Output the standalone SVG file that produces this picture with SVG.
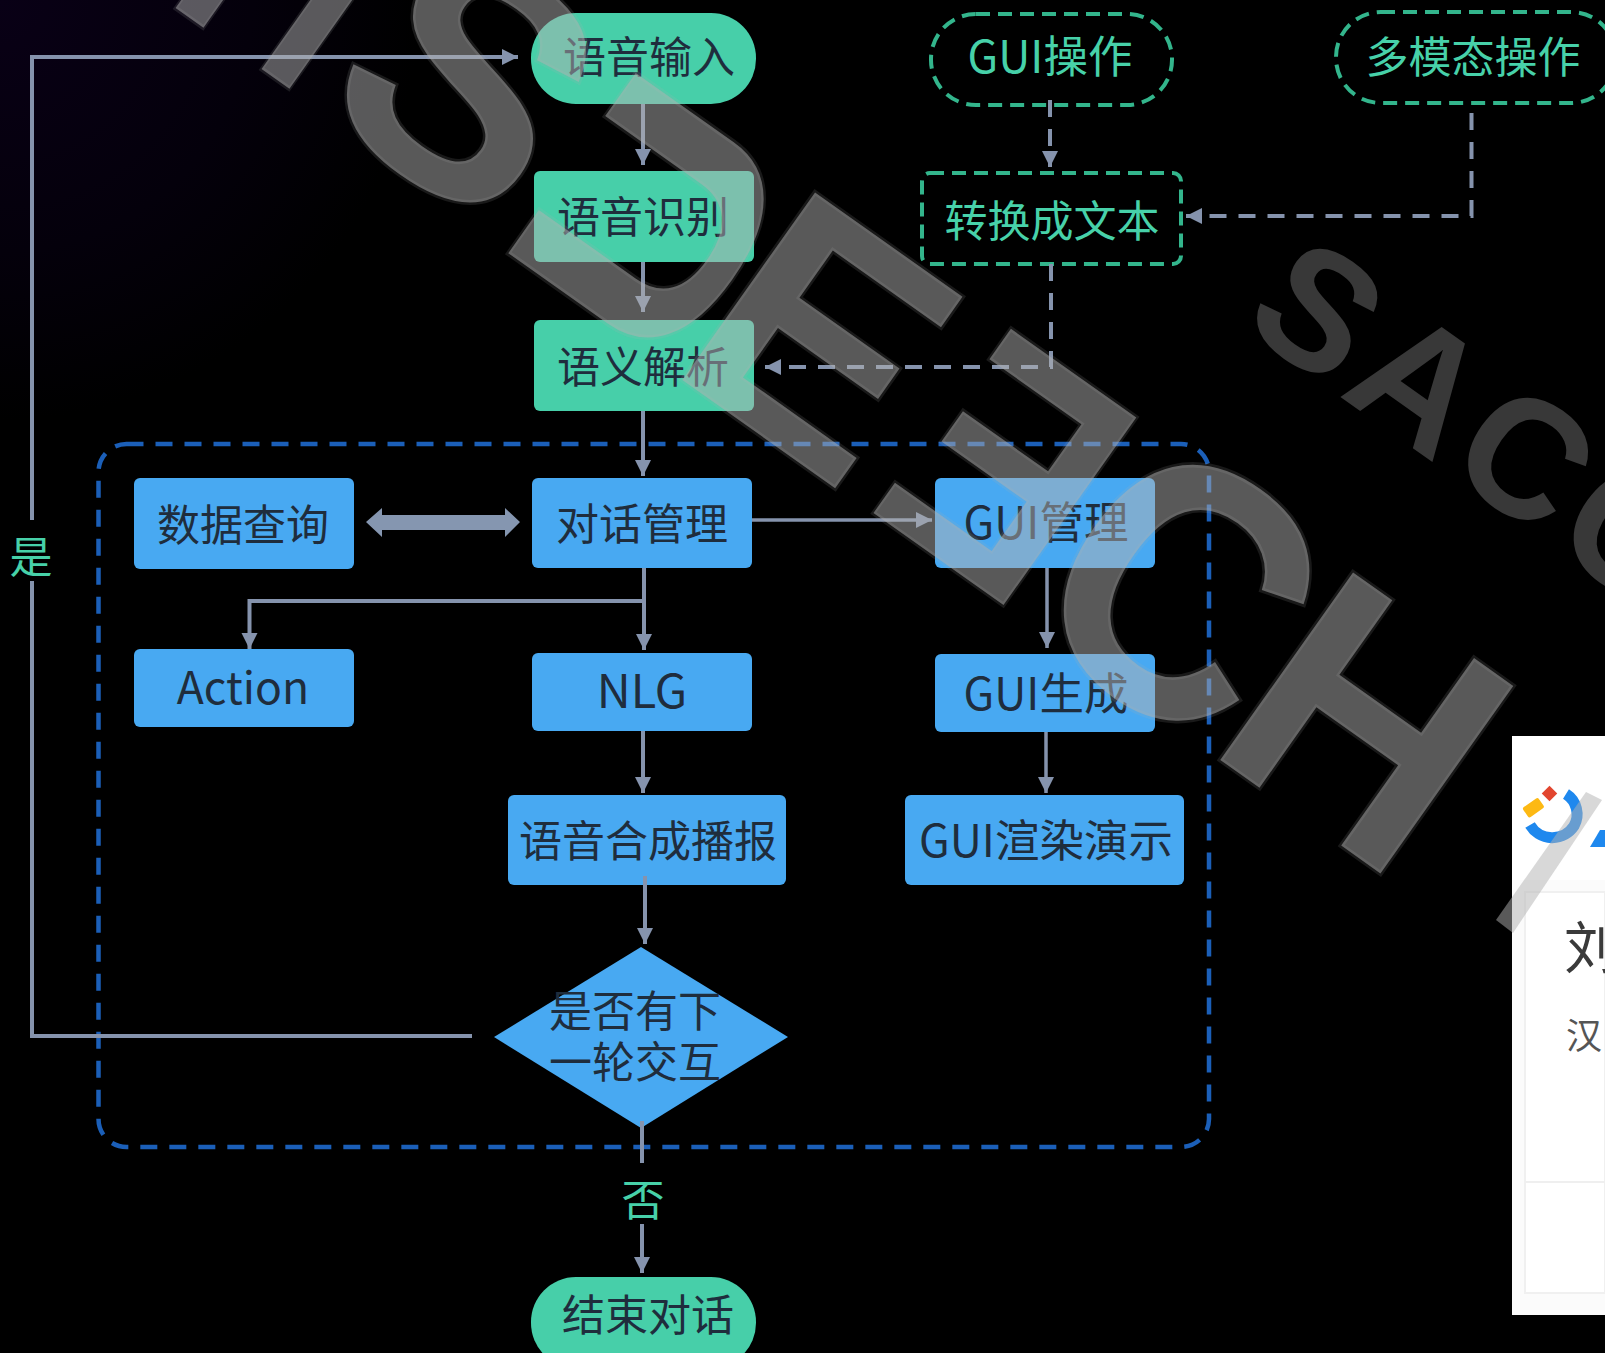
<svg xmlns="http://www.w3.org/2000/svg" width="1605" height="1353" viewBox="0 0 1605 1353">
<style>
.t{font-family:"Noto Sans CJK SC","Noto Sans",sans-serif;font-size:43px;text-anchor:middle;fill:#1f2d3d}
.l{font-size:44.500px}
.g{fill:#47d1a9}
.green{fill:#47cfa9}
.blue{fill:#48a9f2}
.out{fill:none;stroke:#33b58c;stroke-width:4;stroke-dasharray:14 8}
.c{fill:none;stroke:#8593ad;stroke-width:4}
.thin{stroke-width:3.500}
.d{stroke-dasharray:17 12}
.w{font-family:"Liberation Sans",sans-serif;font-weight:700;font-size:334px;fill:#b2b2b2;fill-opacity:.5;stroke:#b2b2b2;stroke-opacity:.14;stroke-width:5;paint-order:stroke}
.w2{font-family:"Liberation Sans",sans-serif;font-weight:700;font-size:168px;letter-spacing:8px;fill:#383838}
</style>
<defs>
<marker id="a" markerUnits="userSpaceOnUse" markerWidth="16" markerHeight="18" refX="16" refY="9" orient="auto"><path d="M0 1 L16 9 L0 17 Z" fill="#8593ad"/></marker>
<radialGradient id="bg" gradientUnits="userSpaceOnUse" cx="0" cy="0" r="420"><stop offset="0" stop-color="#090016"/><stop offset=".6" stop-color="#04000b"/><stop offset="1" stop-color="#000"/></radialGradient>
</defs>
<rect width="1605" height="1353" fill="#000"/>
<rect width="420" height="420" fill="url(#bg)"/>

<g id="panel">
<rect x="1512" y="736" width="93" height="579" fill="#fff"/>
<rect x="1512" y="880" width="93" height="435" fill="#fbfbfb"/>
<rect x="1525" y="892" width="80" height="401" fill="#fff" stroke="#f0f0f0" stroke-width="2"/>
<line x1="1525" y1="1182" x2="1605" y2="1182" stroke="#efefef" stroke-width="2"/>
<rect x="1544" y="788" width="11" height="11" fill="#e2452f" transform="rotate(45 1549.500 793.500)"/>
<rect x="1524" y="802" width="19" height="12" rx="2" fill="#fdb913" transform="rotate(-35 1533 808)"/>
<path d="M1566 794 A24 24 0 0 1 1574 826 A26 26 0 0 1 1530 825" fill="none" stroke="#1e88ee" stroke-width="11"/>
<path d="M1590 847 L1600 830 L1605 830 L1605 847 Z" fill="#1e88ee"/>
<text x="1564" y="968" style="font-family:'Noto Sans CJK SC',sans-serif;font-size:56px;fill:#3a3a3a">刘</text>
<text x="1566" y="1049" style="font-family:'Noto Sans CJK SC',sans-serif;font-size:36px;fill:#555">汉</text>
</g>

<text class="w2" transform="matrix(.816 .578 -.578 .816 1239 325)">SACC</text>

<g id="group-box"><rect x="98.500" y="444" width="1110.500" height="703" rx="28" fill="none" stroke="#1b5fb8" stroke-width="4.500" stroke-dasharray="17 12"/></g>

<g id="n-input"><rect class="green" x="531" y="13" width="225" height="91" rx="45"/><text class="t" x="649" y="73">语音输入</text></g>
<g id="n-recog"><rect class="green" x="534" y="171" width="220" height="91" rx="6"/><text class="t" x="643" y="233">语音识别</text></g>
<g id="n-parse"><rect class="green" x="534" y="320" width="220" height="91" rx="6"/><text class="t" x="643" y="383">语义解析</text></g>
<g id="n-gui-op"><rect class="out" x="931" y="14" width="241" height="91" rx="45"/><text class="t g l" x="1050" y="73">GUI操作</text></g>
<g id="n-multi"><rect class="out" x="1336" y="12" width="280" height="91" rx="45"/><text class="t g" x="1473" y="73">多模态操作</text></g>
<g id="n-convert"><rect class="out" x="922" y="173" width="259" height="91" rx="8"/><text class="t g" x="1052" y="237">转换成文本</text></g>
<g id="n-query"><rect class="blue" x="134" y="478" width="220" height="91" rx="6"/><text class="t" x="243" y="541">数据查询</text></g>
<g id="n-dm"><rect class="blue" x="532" y="478" width="220" height="90" rx="6"/><text class="t" x="642" y="540">对话管理</text></g>
<g id="n-gui-mgr"><rect class="blue" x="935" y="478" width="220" height="90" rx="6"/><text class="t l" x="1046" y="539">GUI管理</text></g>
<g id="n-action"><rect class="blue" x="134" y="649" width="220" height="78" rx="6"/><text class="t l" x="243" y="704">Action</text></g>
<g id="n-nlg"><rect class="blue" x="532" y="653" width="220" height="78" rx="6"/><text class="t" style="font-size:47px" x="642" y="708">NLG</text></g>
<g id="n-gui-gen"><rect class="blue" x="935" y="654" width="220" height="78" rx="6"/><text class="t l" x="1046" y="710">GUI生成</text></g>
<g id="n-tts"><rect class="blue" x="508" y="795" width="278" height="90" rx="6"/><text class="t" x="648" y="857">语音合成播报</text></g>
<g id="n-gui-render"><rect class="blue" x="905" y="795" width="279" height="90" rx="6"/><text class="t l" x="1046" y="857">GUI渲染演示</text></g>
<g id="n-decision"><polygon class="blue" points="641,947 788,1037 641,1128 494,1037"/><text class="t" x="635" y="1027">是否有下</text><text class="t" x="635" y="1078">一轮交互</text></g>
<g id="n-end"><rect class="green" x="531" y="1277" width="225" height="91" rx="45"/><text class="t" x="648" y="1331">结束对话</text></g>

<g id="connectors">
<path class="c" d="M643 104V165" marker-end="url(#a)"/>
<path class="c" d="M643 262V312" marker-end="url(#a)"/>
<path class="c" d="M643 411V476" marker-end="url(#a)"/>
<path class="c" d="M472 1036H32V581"/>
<path class="c" d="M32 520V57H518" marker-end="url(#a)"/>
<polygon points="366,522 382,508 382,515 505,515 505,508 520,522 505,537 505,530 382,530 382,537" fill="#8596b0"/>
<path class="c thin" d="M752 520H932" marker-end="url(#a)"/>
<path class="c thin" d="M1047 568V648" marker-end="url(#a)"/>
<path class="c thin" d="M1046 732V793" marker-end="url(#a)"/>
<path class="c" d="M644 568V650" marker-end="url(#a)"/>
<path class="c" d="M644 601H249.500V649" marker-end="url(#a)"/>
<path class="c" d="M643 731V793" marker-end="url(#a)"/>
<path class="c" d="M645 876V944" marker-end="url(#a)"/>
<path class="c" d="M642 1121V1163"/>
<path class="c" d="M642 1224V1273" marker-end="url(#a)"/>
<path class="c d" d="M1050 100V167" marker-end="url(#a)"/>
<path class="c d" d="M1051 264V367H765" marker-end="url(#a)"/>
<path class="c d" d="M1471.500 113V216H1186" marker-end="url(#a)"/>
<text class="t g" x="31" y="573">是</text>
<text class="t g" x="643" y="1216">否</text>
</g>

<g id="watermark">
<text class="w" transform="matrix(.58 .411 -.578 .816 162.600 -1.200)">H</text>
<text class="w" transform="matrix(.816 .578 -.578 .816 311 107.600)">S</text>
<text class="w" transform="matrix(.635 -.898 .694 .491 655 384)">U</text>
<text class="w" transform="matrix(.816 .578 -.578 .816 664 367)">E</text>
<text class="w" transform="matrix(-.694 -.491 -.578 .816 1019 616)">E</text>
<text class="w" transform="matrix(.816 .578 -.624 .881 1011 621)">C</text>
<text class="w" transform="matrix(.816 .578 -.578 .816 1202 747)">H</text>
<polygon points="1496,920 1513,933 1602,800 1586,792" fill="#b2b2b2" fill-opacity=".5"/>
</g>
</svg>
